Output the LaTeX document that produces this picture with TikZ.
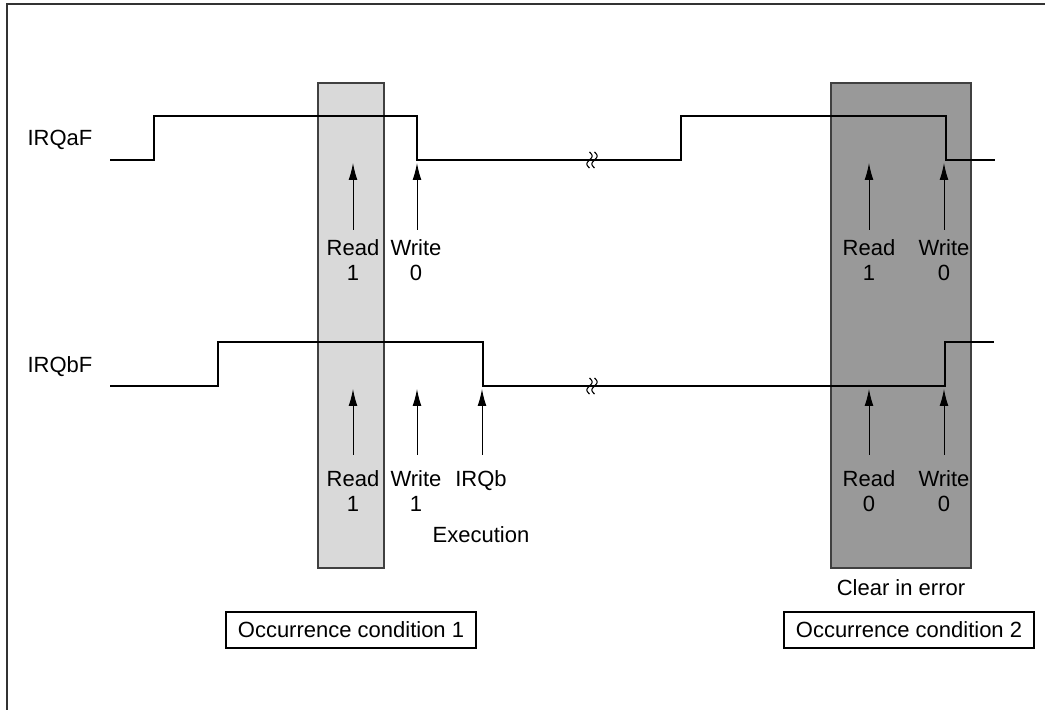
\documentclass[tikz,border=0pt]{standalone}
\usepackage{fontspec}
\setmainfont{Liberation Sans}
\usetikzlibrary{arrows.meta}

\tikzset{
  sig/.style={line width=0.55pt},
  txt/.style={inner sep=0pt, font=\fontsize{11}{12.5}\selectfont, align=center},
  probe/.style={-{Latex[length=8.5pt,width=4.4pt]}, line width=0.5pt},
  window/.style={draw=black!75, line width=0.75pt},
  condbox/.style={draw, line width=0.6pt, minimum width=125pt, minimum height=18pt,
    inner sep=0pt, font=\fontsize{11}{12.5}\selectfont},
}

% wavy break mark on a signal line
\newcommand{\brkmark}[2]{%
  \foreach \dx in {-2.5,2.5}
    \draw[line width=0.55pt, samples=25, domain=-8:8]
      plot ({#1+\dx-2.6*sin(\x*180/8)}, {#2+\x});
}

\begin{document}
\begin{tikzpicture}[x=0.5pt, y=-0.5pt]
    \useasboundingbox (0,0) rectangle (1045,710);

    % 1. Frame
    \draw[line width=1pt, black!80] (1045,4) -- (7,4) -- (7,710);

    % 2. Windows of the two conditions
    \filldraw[window, fill=black!15] (318,83) rectangle (384,568);
    \filldraw[window, fill=black!40] (831,83) rectangle (971,568);

    % 3. Signals
    \node[txt, anchor=north] (lblA) at (60,130) {IRQaF};
    \draw[sig] (110,160) -- (154,160) -- (154,116) -- (417,116) -- (417,160)
        -- (681,160) -- (681,116) -- (946,116) -- (946,160) -- (995,160);
    \brkmark{592}{160}

    \node[txt, anchor=north] (lblB) at (60,356) {IRQbF};
    \draw[sig] (110,386) -- (218,386) -- (218,342) -- (483,342) -- (483,386)
        -- (945,386) -- (945,342) -- (994,342);
    \brkmark{592}{386}

    % 4. Accesses to IRQaF
    \coordinate (tA1) at (353,163);
    \coordinate (tA2) at (417,163);
    \coordinate (tA3) at (869,163);
    \coordinate (tA4) at (944,163);
    \node[txt, anchor=north] (rdA1) at (353,239) {Read\\1};
    \node[txt, anchor=north] (wrA1) at (416,239) {Write\\0};
    \node[txt, anchor=north] (rdA2) at (869,239) {Read\\1};
    \node[txt, anchor=north] (wrA2) at (944,239) {Write\\0};
    \draw[probe, shorten <=4.5pt] (rdA1.north -| tA1) -- (tA1);
    \draw[probe, shorten <=4.5pt] (wrA1.north -| tA2) -- (tA2);
    \draw[probe, shorten <=4.5pt] (rdA2.north -| tA3) -- (tA3);
    \draw[probe, shorten <=4.5pt] (wrA2.north -| tA4) -- (tA4);

    % 5. Accesses to IRQbF
    \coordinate (tB1) at (353,389);
    \coordinate (tB2) at (417,389);
    \coordinate (tB3) at (482,389);
    \coordinate (tB4) at (869,389);
    \coordinate (tB5) at (944,389);
    \node[txt, anchor=north] (rdB1) at (353,470) {Read\\1};
    \node[txt, anchor=north] (wrB1) at (416,470) {Write\\1};
    \node[txt, anchor=north] (irqb) at (481,470) {IRQb};
    \node[txt, anchor=north] (exec) at (481,526) {Execution};
    \node[txt, anchor=north] (rdB2) at (869,470) {Read\\0};
    \node[txt, anchor=north] (wrB2) at (944,470) {Write\\0};
    \draw[probe, shorten <=7.5pt] (rdB1.north -| tB1) -- (tB1);
    \draw[probe, shorten <=7.5pt] (wrB1.north -| tB2) -- (tB2);
    \draw[probe, shorten <=7.5pt] (irqb.north -| tB3) -- (tB3);
    \draw[probe, shorten <=7.5pt] (rdB2.north -| tB4) -- (tB4);
    \draw[probe, shorten <=7.5pt] (wrB2.north -| tB5) -- (tB5);

    % 6. Captions
    \node[txt] (clr) at (901,588) {Clear in error};
    \node[condbox] (cond1) at (351,630) {Occurrence condition 1};
    \node[condbox] (cond2) at (909,630) {Occurrence condition 2};
\end{tikzpicture}
\end{document}
